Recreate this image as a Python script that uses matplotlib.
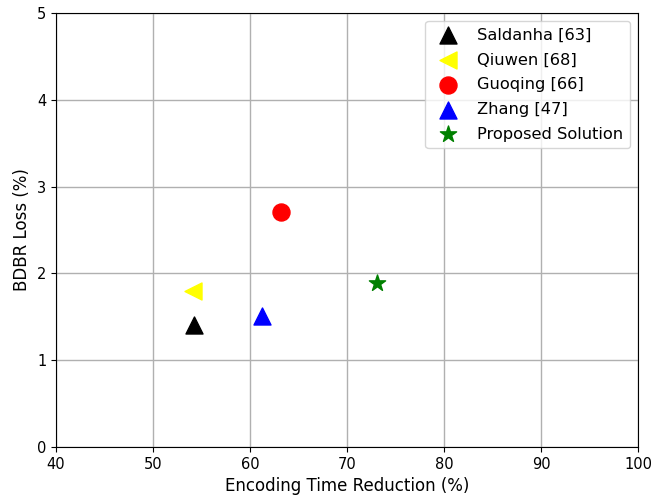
import matplotlib
matplotlib.use("Agg")
import matplotlib.pyplot as plt

methods = ["Saldanha [63]", "Qiuwen [68]", "Guoqing [66]", "Zhang [47]", "Proposed Solution"]
time_reduction = [54.2, 54.1, 63.2, 61.2, 73.1]
bdbr_loss = [1.41, 1.80, 2.71, 1.51, 1.89]
colors = ["black", "yellow", "red", "blue", "green"]
markers = ["^", "<", "o", "^", "*"]

fig = plt.figure(figsize=(6.54, 4.99), dpi=100)
ax = fig.add_axes([56 / 654, 52 / 499, 582 / 654, 434 / 499])

for name, x, y, c, m in zip(methods, time_reduction, bdbr_loss, colors, markers):
    ax.scatter(x, y, s=150, c=c, marker=m, label=name, zorder=3)

ax.set_xlim(40, 100)
ax.set_ylim(0, 5)
ax.set_xticks(range(40, 101, 10))
ax.set_yticks(range(0, 6))
ax.grid(True, color="#b0b0b0", linewidth=1)
ax.set_axisbelow(True)
ax.set_xlabel("Encoding Time Reduction (%)", fontsize=12)
ax.set_ylabel("BDBR Loss (%)", fontsize=12)
ax.tick_params(labelsize=10.5)
ax.legend(loc="upper right", fontsize=11.7, labelspacing=0.6)

fig.savefig("out.png", dpi=100)
